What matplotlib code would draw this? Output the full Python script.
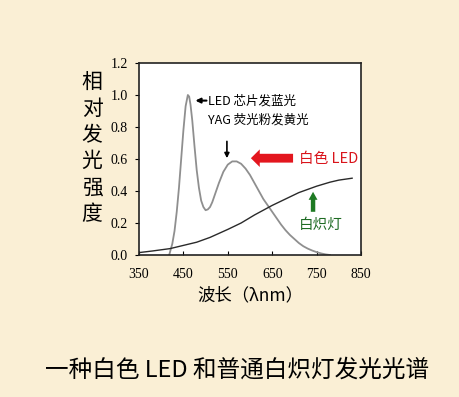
import matplotlib
matplotlib.use("Agg")
import matplotlib.pyplot as plt
from matplotlib.patches import FancyArrow

plt.rcParams['font.family'] = ['Noto Sans CJK SC', 'DejaVu Sans']

# Data
led_wl = [418, 425, 430, 435, 440, 445, 450, 455, 460, 463, 466, 470, 475, 480, 485, 490, 495,
          500, 505, 510, 515, 520, 530, 540, 550, 560, 570, 580, 590, 600, 610, 620, 630,
          640, 650, 660, 670, 680, 690, 700, 710, 720, 730, 740, 750, 760, 770, 780]
led_val = [0.0, 0.07, 0.15, 0.27, 0.42, 0.60, 0.78, 0.93, 1.0, 0.99, 0.94, 0.84, 0.68, 0.53, 0.42,
           0.34, 0.30, 0.28, 0.285, 0.30, 0.33, 0.37, 0.45, 0.52, 0.565, 0.585, 0.585, 0.57, 0.54,
           0.50, 0.45, 0.40, 0.35, 0.31, 0.27, 0.23, 0.19, 0.155, 0.125, 0.10, 0.075, 0.055, 0.04,
           0.028, 0.018, 0.01, 0.004, 0.0]
inc_wl = [350, 380, 420, 450, 480, 510, 550, 580, 610, 650, 680, 710, 750, 780, 800, 830]
inc_val = [0.015, 0.025, 0.04, 0.06, 0.08, 0.11, 0.16, 0.20, 0.25, 0.31, 0.35, 0.39, 0.43, 0.455,
           0.468, 0.48]
xticks = [350, 450, 550, 650, 750, 850]
yticks = [0.0, 0.2, 0.4, 0.6, 0.8, 1.0, 1.2]

bg = '#FAEFD5'
fig = plt.figure(figsize=(4.6, 3.97), dpi=100, facecolor=bg)
ax = fig.add_axes([139/460, 1-255/397, 222/460, 192/397])
ax.set_facecolor('white')

ax.plot(led_wl, led_val, color='#8f8f8f', lw=1.3)
ax.plot(inc_wl, inc_val, color='#2a2a2a', lw=1.0)

ax.set_xlim(350, 850)
ax.set_ylim(0, 1.2)
ax.set_xticks(xticks)
ax.set_yticks(yticks)
ax.set_xticklabels([str(v) for v in xticks], fontfamily='Liberation Serif', fontsize=10)
ax.set_yticklabels([f'{v:.1f}' for v in yticks], fontfamily='Liberation Serif', fontsize=10)
ax.tick_params(axis='x', direction='in', length=3, width=0.8, pad=9)
ax.tick_params(axis='y', direction='out', length=3, width=0.8, pad=5)
for s in ax.spines.values():
    s.set_linewidth(1.2)
    s.set_color('#222222')

ax.set_xlabel('波长（λnm）', fontsize=12.5, labelpad=4)

fig.text(92/460, 1-148/397, '相\n对\n发\n光\n强\n度', fontsize=15, ha='center', va='center',
         linespacing=1.25)

# annotations
ax.annotate('', xy=(477, 0.965), xytext=(502, 0.965),
            arrowprops=dict(arrowstyle='-|>', color='black', lw=1.5, mutation_scale=7,
                            shrinkA=0, shrinkB=0))
ax.text(505, 0.965, 'LED 芯片发蓝光', fontsize=9, va='center', ha='left')
ax.text(505, 0.845, 'YAG 荧光粉发黄光', fontsize=9, va='center', ha='left')
ax.annotate('', xy=(548, 0.605), xytext=(548, 0.71),
            arrowprops=dict(arrowstyle='-|>', color='black', lw=1.2, mutation_scale=7,
                            shrinkA=0, shrinkB=0))
ax.add_patch(FancyArrow(697, 0.605, -95, 0, width=0.055, head_width=0.11, head_length=20,
                        length_includes_head=True, color='#E3161E', lw=0))
ax.text(710, 0.6, '白色 LED', fontsize=10.5, color='#D9141B', va='center', ha='left')
ax.add_patch(FancyArrow(742, 0.27, 0, 0.125, width=10, head_width=20, head_length=0.05,
                        length_includes_head=True, color='#1E7A23', lw=0))
ax.text(710, 0.19, '白炽灯', fontsize=10.5, color='#1E6B23', va='center', ha='left')

fig.text(45/460, 1-370/397, '一种白色 LED 和普通白炽灯发光光谱', fontsize=17, ha='left', va='center')

fig.savefig('out.png', dpi=100, facecolor=bg)
